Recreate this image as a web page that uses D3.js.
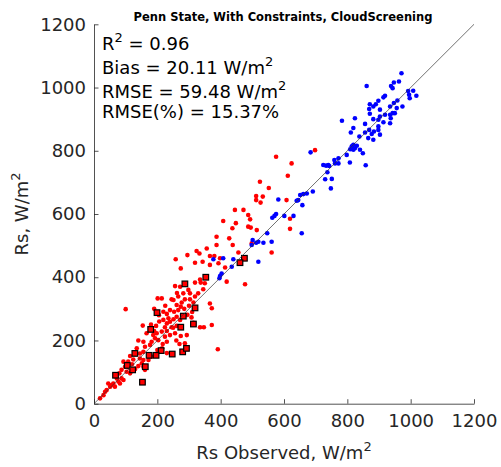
<!DOCTYPE html>
<html>
<head>
<meta charset="utf-8">
<script src="https://cdn.jsdelivr.net/npm/d3@7"></script>
<style>
  body { margin: 0; background: #fff; }
  svg { display: block; }
</style>
</head>
<body>
<svg width="501" height="467"></svg>
<script>
// Observed vs modelled Rs, W/m2
var bluePoints = [
  [971,1045],[963,1019],[947,1016],[938,1005],[943,998],[861,1005],[992,989],[1008,990],[995,977],[1018,974],
  [997,966],[919,974],[914,969],[898,958],[890,947],[871,947],[882,940],[869,932],[903,930],[958,959],
  [947,951],[935,940],[956,935],[974,940],[950,919],[943,919],[935,914],[937,903],[935,887],[919,914],
  [903,908],[898,898],[882,900],[871,917],[914,890],[898,877],[898,866],[884,861],[869,866],[856,885],
  [824,903],[819,872],[811,858],[783,895],[856,858],[877,853],[903,851],[882,835],[866,840],[838,845],
  [819,819],[814,814],[830,816],[809,805],[824,808],[819,803],[840,803],[849,792],[798,787],[772,776],
  [684,795],[724,755],[733,753],[740,755],[743,752],[759,771],[761,760],[772,760],[737,732],[730,710],
  [751,711],[748,681],[691,671],[672,665],[661,663],[651,660],[645,644],[640,642],[658,628],[582,646],
  [630,594],[601,594],[575,600],[570,594],[563,588],[858,754],[808,763],
  [656,539],[547,539],[501,518],[512,509],[498,502],[519,512],[535,509],[561,512],[408,460],[377,457],
  [440,457],[435,433],[403,412],[398,404],[396,397],[519,449]
];

var redPoints = [
  [575,781],[698,802],[624,760],[612,721],[524,702],[552,682],[512,657],[533,655],[512,644],[526,636],
  [608,644],[472,613],[487,597],[493,583],[619,585],
  [445,613],[487,560],[495,557],[514,549],[408,578],[448,571],[437,555],[387,528],[427,523],[387,502],
  [438,502],[498,507],[356,491],[324,483],[333,475],[456,478],[295,470],[366,467],[380,467],[398,460],
  [561,478],[619,553],[258,457],
  [343,449],[319,446],[366,439],[393,444],[414,431],[274,428],[419,386],[335,393],[319,383],[337,383],
  [350,381],[256,372],[272,370],[298,360],[282,349],[303,349],[329,349],[345,362],[266,339],[287,330],
  [277,320],[303,330],[319,339],[314,320],[251,328],[261,312],[274,307],[253,291],[266,296],[240,296],
  [201,333],[214,333],[366,317],[372,302],[219,291],[230,284],[235,270],[219,265],[206,260],[230,254],
  [240,259],[251,267],[261,275],[272,265],[295,281],[308,273],[314,256],[154,247],[335,242],[347,242],
  [372,249],[196,246],[224,242],[245,242],[261,246],
  [477,378],[391,172],[100,299],
  [166,223],[187,217],[198,223],[214,228],[224,212],[240,217],[256,223],[193,207],[203,201],[182,196],
  [156,196],[161,180],[177,186],[274,214],[293,217],[270,189],[287,191],[217,189],[230,196],[145,159],
  [156,164],[135,175],[114,151],[124,140],[145,143],[156,138],[151,128],[140,119],[156,117],[161,107],
  [93,133],[98,117],[87,107],[103,101],[114,96],[80,96],[72,80],[87,80],[77,70],[61,64],
  [56,59],[51,54],[66,54],[40,43],[35,38],[30,27],[19,17],[82,64],[93,75],[45,64],
  [108,133],[172,138],[182,149],
  [180,250],[205,280],[190,300],[225,310],[245,330],[262,350],[285,300],[300,310],[310,290],[230,230],
  [250,240],[200,170],[215,175],[230,160],[120,125],[130,110],[110,115],[190,230],[260,200],[140,200]
];

// points marked with black-edged squares
var squarePoints = [
  [475,460],[461,446],[353,400],[287,379],[319,303],[199,288],[282,277],[179,235],[274,242],[314,252],
  [129,159],[212,168],[174,153],[196,153],[247,157],[280,164],[292,175],[105,121],[68,90],[122,107],
  [162,117],[153,68]
];

var axisTicks = [0, 200, 400, 600, 800, 1000, 1200];
var statLines = [
  {pre: "R", sup: "2", post: " = 0.96"},
  {pre: "Bias = 20.11 W/m", sup: "2", post: ""},
  {pre: "RMSE = 59.48 W/m", sup: "2", post: ""},
  {pre: "RMSE(%) = 15.37%", sup: "", post: ""}
];
var statBaselines = [50, 74, 98.3, 118.3];

var svg = d3.select("svg"),
    plotLeft = 94, plotRight = 474, plotTop = 24.3, plotBottom = 403.7;
var font = "DejaVu Sans, sans-serif";
var axisColor = "#262626";

var x = d3.scaleLinear().domain([0, 1200]).range([plotLeft, plotRight]);
var y = d3.scaleLinear().domain([0, 1200]).range([plotBottom, plotTop]);

// axes, ticks pointing inward
var xAxis = svg.append("g")
    .attr("transform", "translate(0," + plotBottom + ")")
    .call(d3.axisBottom(x).tickValues(axisTicks).tickFormat(d3.format("d"))
      .tickSizeInner(-4.5).tickSizeOuter(0).tickPadding(10.5));
var yAxis = svg.append("g")
    .attr("transform", "translate(" + plotLeft + ",0)")
    .call(d3.axisLeft(y).tickValues(axisTicks).tickFormat(d3.format("d"))
      .tickSizeInner(-4.5).tickSizeOuter(0).tickPadding(8));

[xAxis, yAxis].forEach(function(g) {
  g.selectAll("path, line").attr("stroke", axisColor).attr("stroke-width", 0.8);
  g.selectAll("text").attr("fill", axisColor).attr("font-family", font).attr("font-size", "18px");
});

// points
svg.append("g").selectAll("circle")
  .data(redPoints).enter().append("circle")
    .attr("cx", function(d) { return x(d[0]); })
    .attr("cy", function(d) { return y(d[1]); })
    .attr("r", 2.3)
    .attr("fill", "#ff0000");

svg.append("g").selectAll("circle")
  .data(bluePoints).enter().append("circle")
    .attr("cx", function(d) { return x(d[0]); })
    .attr("cy", function(d) { return y(d[1]); })
    .attr("r", 2.3)
    .attr("fill", "#0000ff");

svg.append("g").selectAll("rect")
  .data(squarePoints).enter().append("rect")
    .attr("x", function(d) { return x(d[0]) - 2.8; })
    .attr("y", function(d) { return y(d[1]) - 2.8; })
    .attr("width", 5.6)
    .attr("height", 5.6)
    .attr("fill", "#ff0000")
    .attr("stroke", "#000")
    .attr("stroke-width", 1.2);

// 1:1 line
svg.append("path")
  .datum([0, 1200])
  .attr("fill", "none")
  .attr("stroke", "#333")
  .attr("stroke-width", 0.7)
  .attr("d", d3.line().x(function(d) { return x(d); }).y(function(d) { return y(d); }));

// title
svg.append("text")
  .attr("x", 283)
  .attr("y", 20.5)
  .attr("text-anchor", "middle")
  .attr("font-family", font)
  .attr("font-weight", "bold")
  .attr("font-size", "11.5px")
  .attr("fill", "#000")
  .text("Penn State, With Constraints, CloudScreening");

// stats box text
statLines.forEach(function(s, i) {
  var t = svg.append("text")
    .attr("x", 102)
    .attr("y", statBaselines[i])
    .attr("font-family", font)
    .attr("font-size", "18px")
    .attr("fill", "#000");
  t.append("tspan").text(s.pre);
  if (s.sup) t.append("tspan").attr("font-size", "13px").attr("dy", -8).text(s.sup);
  if (s.post) t.append("tspan").attr("dy", 8).text(s.post);
});

// axis titles
var xt = svg.append("text")
  .attr("x", 284)
  .attr("y", 459.3)
  .attr("text-anchor", "middle")
  .attr("font-family", font)
  .attr("font-size", "18px")
  .attr("fill", axisColor);
xt.append("tspan").text("Rs Observed, W/m");
xt.append("tspan").attr("font-size", "13px").attr("dy", -8).text("2");

var yt = svg.append("text")
  .attr("transform", "translate(27.5," + ((plotTop + plotBottom) / 2) + ") rotate(-90)")
  .attr("text-anchor", "middle")
  .attr("font-family", font)
  .attr("font-size", "18px")
  .attr("fill", axisColor);
yt.append("tspan").text("Rs, W/m");
yt.append("tspan").attr("font-size", "13px").attr("dy", -8).text("2");
</script>
</body>
</html>
